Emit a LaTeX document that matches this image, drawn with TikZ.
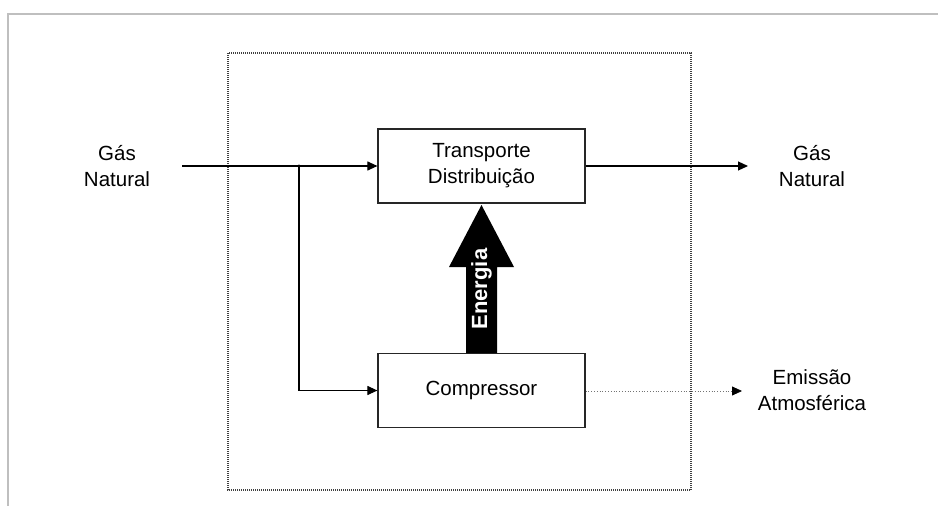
\documentclass[tikz,border=0pt]{standalone}
\usepackage{fontspec}
\setmainfont{Liberation Sans}
\usetikzlibrary{arrows.meta}
\begin{document}
\begin{tikzpicture}[x=1pt,y=-1pt,
  lbl/.style={font=\fontsize{20.5}{26}\selectfont, align=center, inner sep=0pt},
  blockbox/.style={draw=black!85, line width=1.2pt, minimum width=207pt, minimum height=74pt, inner sep=0pt, lbl},
  flow/.style={line width=1.1pt, -{Triangle[length=10pt,width=9pt]}},
  leak/.style={line width=0.8pt, dotted, draw=black!55, -{Triangle[length=10pt,width=9pt,fill=black,color=black]}}]
\useasboundingbox (0,0) rectangle (938,506);
\fill[white] (0,0) rectangle (938,506);
% outer frame
\draw[black!25, line width=1.5pt] (938,14) -- (8,14) -- (8,506);
% system boundary
\draw[black!75, line width=1.2pt, dash pattern=on 1pt off 1pt] (228,53) rectangle (691,490);

\node[blockbox] (td) at (481.5,166) {Transporte\\Distribuição};
\node[blockbox] (cp) at (481.5,390.5) {Compressor};

\node[lbl] (gin) at (117,166) {Gás\\Natural};
\node[lbl] (gout) at (812,166) {Gás\\Natural};
\node[lbl] (em) at (812,390) {Emissão\\Atmosférica};

\coordinate (src) at (182,166);
\coordinate (jn) at (299,166);
\coordinate (outtip) at (748,166);
\coordinate (emtip) at (742,391);

\draw[line width=1.1pt] (src) -- (jn);
\draw[flow] (jn) -- (td.west);
\fill (jn) circle (1.6);
\draw[flow] (jn) |- (cp.west);
\draw[flow] (td.east) -- (outtip);
\draw[leak] (cp.east |- emtip) -- (emtip);

% energy arrow
\fill[black] (466,353) -- (466,267) -- (449,267) -- (481.5,205) -- (514,267) -- (497,267) -- (497,353) -- cycle;
\node[text=white, font=\bfseries\fontsize{22}{24}\selectfont, rotate=90, inner sep=0pt] (en) at (481.5,289) {Energia};
\end{tikzpicture}
\end{document}
